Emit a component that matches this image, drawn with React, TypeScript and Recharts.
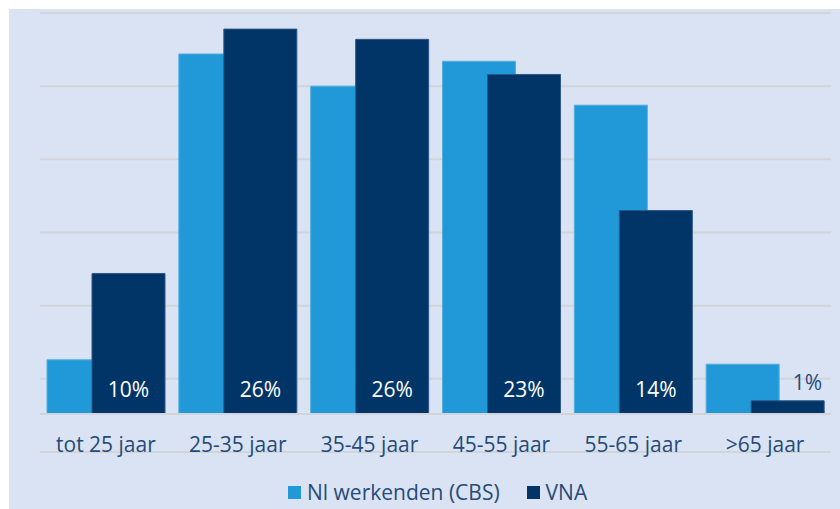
import React from "react";
import { BarChart, Bar, XAxis, YAxis, CartesianGrid, ReferenceLine, LabelList } from "recharts";

const categories = ["tot 25 jaar", "25-35 jaar", "35-45 jaar", "45-55 jaar", "55-65 jaar", ">65 jaar"];
const cbsValues = [3.7, 24.6, 22.4, 24.1, 21.1, 3.4];
const vnaValues = [9.6, 26.3, 25.6, 23.2, 13.9, 0.9];
const seriesNames = ["Nl werkenden (CBS)", "VNA"];
const seriesColors = ["#2199d8", "#023567"];
const yTicks = [-2.6, 2.4, 7.4, 12.4, 17.4, 22.4, 27.4];

const data = categories.map((c, i) => ({ name: c, cbs: cbsValues[i], vna: vnaValues[i] }));

const FONT = "'Open Sans', 'DejaVu Sans', sans-serif";
const TEXT = "#264b78";

const CategoryTick = (props: any) => {
  const { x, y, payload } = props;
  return (
    <text x={x} y={y} textAnchor="middle" fill={TEXT} fontSize={21} fontFamily={FONT}>
      {payload.value}
    </text>
  );
};

const VnaLabel = (props: any) => {
  const { x, y, width, height, value } = props;
  const label = `${Math.round(Number(value))}%`;
  if (height < 30) {
    return (
      <text x={x + width - 2} y={y - 10.5} textAnchor="end" fill={TEXT} fontSize={21} fontFamily={FONT}>
        {label}
      </text>
    );
  }
  return (
    <text x={x + width / 2} y={y + height - 17} textAnchor="middle" fill="#ffffff" fontSize={21} fontFamily={FONT}>
      {label}
    </text>
  );
};

export default function App() {
  return (
    <div style={{ position: "absolute", left: 0, top: 0, width: 840, height: 509, background: "#ffffff", overflow: "hidden" }}>
      <div style={{ position: "absolute", left: 9, top: 9, width: 831, height: 500, background: "#dae3f3" }} />
      <div style={{ position: "absolute", left: 0, top: 0 }}>
        <BarChart
          width={840}
          height={509}
          data={data}
          margin={{ top: 13, right: 9, bottom: 27, left: 40 }}
          barSize={73}
          barGap={-28}
        >
          <CartesianGrid vertical={false} stroke="#d1d5da" strokeWidth={2} />
          <YAxis hide type="number" domain={[-2.6, 27.4]} ticks={yTicks} allowDataOverflow />
          <XAxis
            dataKey="name"
            height={30}
            axisLine={false}
            tickLine={false}
            tickSize={0}
            tickMargin={0}
            tick={<CategoryTick />}
            interval={0}
          />
          <ReferenceLine y={0} stroke="#d1d5da" strokeWidth={2} />
          <Bar dataKey="cbs" name={seriesNames[0]} fill={seriesColors[0]} stroke="#52aee3" strokeWidth={1} isAnimationActive={false} />
          <Bar dataKey="vna" name={seriesNames[1]} fill={seriesColors[1]} stroke="#2f5787" strokeWidth={1} isAnimationActive={false}>
            <LabelList dataKey="vna" content={<VnaLabel />} />
          </Bar>
        </BarChart>
      </div>
      <div
        style={{
          position: "absolute",
          left: 288,
          top: 480,
          height: 24,
          display: "flex",
          alignItems: "center",
          fontFamily: FONT,
          fontSize: 21,
          color: TEXT,
          whiteSpace: "nowrap",
        }}
      >
        {seriesNames.map((n, i) => (
          <div key={n} style={{ display: "flex", alignItems: "center", marginRight: i === 0 ? 27 : 0 }}>
            <div style={{ width: 13, height: 13, background: seriesColors[i], marginRight: 6 }} />
            <span>{n}</span>
          </div>
        ))}
      </div>
    </div>
  );
}
